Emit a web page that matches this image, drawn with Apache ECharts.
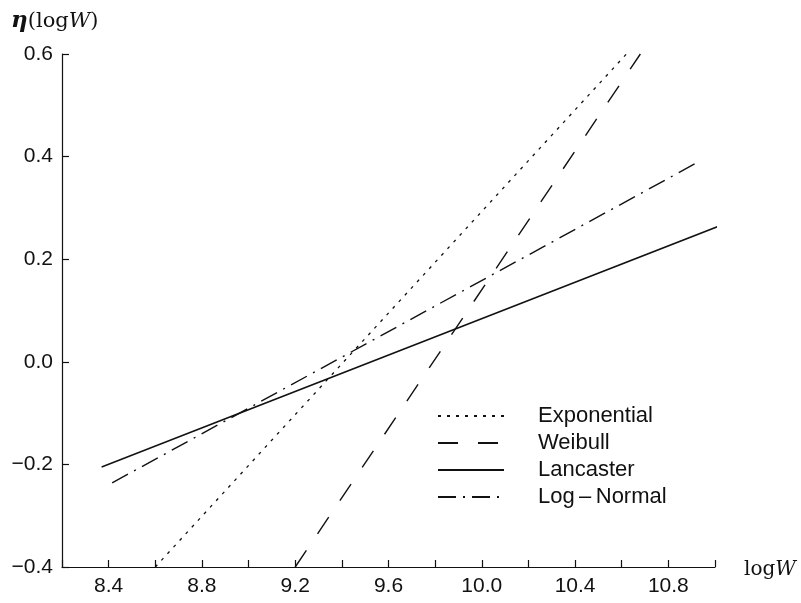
<!DOCTYPE html>
<html>
<head>
<meta charset="utf-8">
<script src="https://cdn.jsdelivr.net/npm/echarts@6/dist/echarts.min.js"></script>
<style>html,body{margin:0;padding:0;background:#fff}#c{width:801px;height:603px}</style>
</head>
<body>
<div id="c"></div>
<script>
// Data (x = logW, y = eta(logW))
var seriesNames = ['Exponential', 'Weibull', 'Lancaster', 'Log\u2009\u2013\u2009Normal'];
var exponential = [[8.60, -0.40], [10.62, 0.60]];
var weibull     = [[9.20, -0.40], [10.68, 0.60]];
var lancaster   = [[8.37, -0.205], [11.02, 0.265]];
var logNormal   = [[8.415, -0.236], [10.93, 0.39]];
var xTickLabels = ['8.4', '8.8', '9.2', '9.6', '10.0', '10.4', '10.8'];
var yTickLabels = ['\u22120.4', '\u22120.2', '0.0', '0.2', '0.4', '0.6'];

var chart = echarts.init(document.getElementById('c'), null, {renderer: 'canvas'});
var ink = '#111';
var labelFont = "'Liberation Sans', Arial, sans-serif";
var serif = "'DejaVu Serif', serif";
function mk(name, data, dash, width, clip) {
  return {
    name: name, type: 'line', data: data, symbol: 'none', showSymbol: false, clip: clip,
    lineStyle: {color: ink, width: width, type: dash},
    itemStyle: {color: ink}
  };
}
chart.setOption({
  animation: false,
  backgroundColor: '#fff',
  title: {
    text: '{e|\u03B7}{p|(log}{w|W}{p|)}',
    left: 6, top: 5,
    textStyle: {
      fontWeight: 'normal',
      rich: {
        e: {fontFamily: serif, fontSize: 23, fontStyle: 'italic', fontWeight: 'bold', color: ink},
        p: {fontFamily: serif, fontSize: 21, fontWeight: 'normal', color: ink},
        w: {fontFamily: serif, fontSize: 21, fontStyle: 'italic', fontWeight: 'normal', color: ink}
      }
    }
  },
  grid: {left: 62, right: 86, top: 54, bottom: 36, containLabel: false},
  legend: {
    orient: 'vertical', left: 432, top: 400,
    itemWidth: 66, itemHeight: 12, itemGap: 5,
    data: seriesNames,
    itemStyle: {opacity: 0, borderWidth: 0},
    textStyle: {fontFamily: labelFont, fontSize: 22, color: ink, padding: [0, 0, 0, 29]}
  },
  xAxis: {
    type: 'value', min: 8.2, max: 11.0, interval: 0.2,
    name: '{l|log}{w|W}', nameLocation: 'end', nameGap: 29,
    nameTextStyle: {
      verticalAlign: 'middle', padding: [6, 0, 0, 0],
      rich: {
        l: {fontFamily: serif, fontSize: 20, color: ink},
        w: {fontFamily: serif, fontSize: 20, fontStyle: 'italic', color: ink}
      }
    },
    axisLine: {onZero: false, lineStyle: {color: ink, width: 1.2}},
    axisTick: {inside: true, length: 7, lineStyle: {color: ink, width: 1.2}},
    splitLine: {show: false},
    axisLabel: {
      margin: 9, fontFamily: labelFont, fontSize: 21, color: ink,
      formatter: function (v) {
        var s = v.toFixed(1);
        return xTickLabels.indexOf(s) >= 0 ? s : '';
      }
    }
  },
  yAxis: {
    type: 'value', min: -0.4, max: 0.6, interval: 0.2,
    axisLine: {onZero: false, lineStyle: {color: ink, width: 1.2}},
    axisTick: {inside: true, length: 7, lineStyle: {color: ink, width: 1.2}},
    splitLine: {show: false},
    axisLabel: {
      margin: 9, fontFamily: labelFont, fontSize: 21, color: ink,
      formatter: function (v) {
        var s = (v < 0 ? '\u2212' : '') + Math.abs(v).toFixed(1);
        return yTickLabels.indexOf(s) >= 0 ? s : '';
      }
    }
  },
  series: [
    mk(seriesNames[0], exponential, [3, 6], 1.3, false),
    mk(seriesNames[1], weibull, [20, 20], 1.4, false),
    mk(seriesNames[2], lancaster, 'solid', 1.5, false),
    mk(seriesNames[3], logNormal, [18, 7, 2, 7], 1.4, false)
  ]
});
</script>
</body>
</html>
